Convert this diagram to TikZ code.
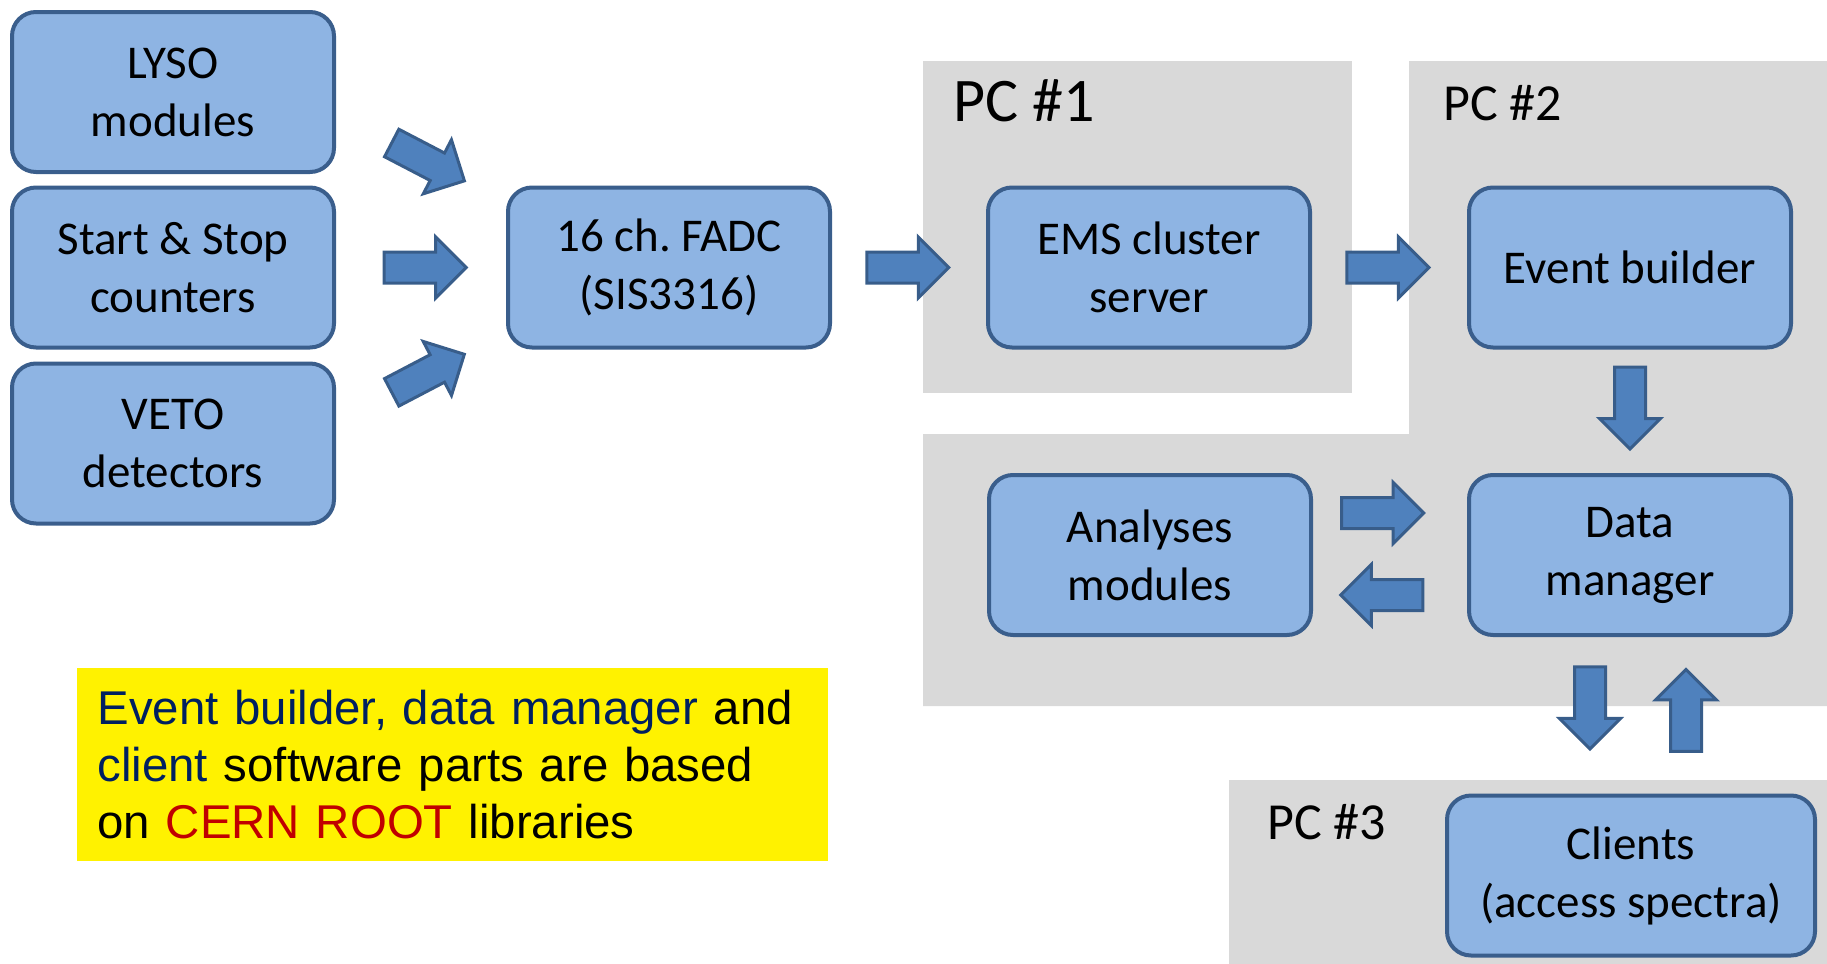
\documentclass[tikz,border=0pt]{standalone}
\usepackage{fontspec}
\setmainfont{Carlito}
\newfontfamily\arialfont{Liberation Sans}
\usetikzlibrary{shapes.arrows,calc}
\definecolor{boxfill}{HTML}{8EB4E3}
\definecolor{boxline}{HTML}{3A5E8C}
\definecolor{arrowfill}{HTML}{4F81BD}
\definecolor{arrowline}{HTML}{385D8A}
\definecolor{pcgray}{HTML}{D9D9D9}
\definecolor{navy}{HTML}{002060}
\definecolor{rootred}{HTML}{C00000}

\begin{document}
\begin{tikzpicture}
		[x=0.5pt, y=-0.5pt,
		 box/.style= {rounded corners=12pt,line width=2pt,draw=boxline,fill=boxfill,minimum width=161pt,minimum height=80pt,inner sep=0pt,align=center,font=\fontsize{23.5}{29}\selectfont},
		 fat/.style= {single arrow,draw=arrowline,fill=arrowfill,line width=1.5pt,minimum height=41pt,inner xsep=0pt,inner ysep=7pt,single arrow head extend=7.5pt,sloped,allow upside down},
		 pc/.style= {anchor=base west,inner sep=0pt,font=\fontsize{26}{30}\selectfont}]
		
		\useasboundingbox (0,0) rectangle (1827,964);
		\fill[pcgray] (923,61) rectangle (1352,393);
		\fill[pcgray] (1409,61) -- (1827,61) -- (1827,706) -- (923,706) -- (923,434) -- (1409,434) -- cycle;
		\fill[pcgray] (1229,780) rectangle (1827,964);
		
		\node[pc,font=\fontsize{31}{36}\selectfont] (pc1) at (953,121) {PC \#1};
		\node[pc] (pc2) at (1443,120) {PC \#2};
		\node[pc] (pc3) at (1267,839) {PC \#3};
		
		\node[box] (lyso) at (173,92) {LYSO\\modules};
		\node[box] (start) at (173,267.5) {Start \& Stop\\counters};
		\node[box] (veto) at (173,443.5) {VETO\\detectors};
		\node[box] (fadc) at (669,267.5) {16 ch.\ FADC\\(SIS3316)};
		\node[box] (ems) at (1149,267.5) {EMS cluster\\server};
		\node[box] (eb) at (1630,267.5) {Event builder};
		\node[box] (anal) at (1150,555) {Analyses\\modules};
		\node[box] (dm) at (1630,555) {Data\\manager};
		\node[box,minimum width=184pt] (clients) at (1631,875.5) {Clients\\(access spectra)};
		
		\path ($(lyso.east)+(0,22)$) -- ($(fadc.west)+(0,-65)$) node[fat,pos=.501] {};
		\path (start) -- (fadc) node[fat,pos=.479] {};
		\path ($(veto.east)+(0,-22)$) -- ($(fadc.west)+(0,65)$) node[fat,pos=.501] {};
		\path (fadc) -- (ems) node[fat,pos=.442] {};
		\path (ems) -- (eb) node[fat,pos=.44] {};
		\path (eb) -- (dm) node[fat,pos=.411] {};
		\path ($(anal.east)+(0,-42)$) -- ($(dm.west)+(0,-42)$) node[fat,pos=.402] {};
		\path ($(dm.west)+(0,40)$) -- ($(anal.east)+(0,40)$) node[fat,pos=.503] {};
		\path ($(dm.south)+(-40,0)$) -- ($(clients.north)+(-41,0)$) node[fat,pos=.404] {};
		\path ($(clients.north)+(55,0)$) -- ($(dm.south)+(56,0)$) node[fat,pos=.481] {};
		
		\node[fill=yellow,anchor=north west,minimum width=375.5pt,minimum height=96.5pt,text width=355.5pt,inner xsep=10pt,align=left,font=\arialfont\fontsize{23.7}{28.5}\selectfont] (note) at (77,668)
			{\textcolor{navy}{Event builder, data manager} and\\\textcolor{navy}{client} software parts are based\\on \textcolor{rootred}{CERN ROOT} libraries};
		
	\end{tikzpicture}
\end{document}
